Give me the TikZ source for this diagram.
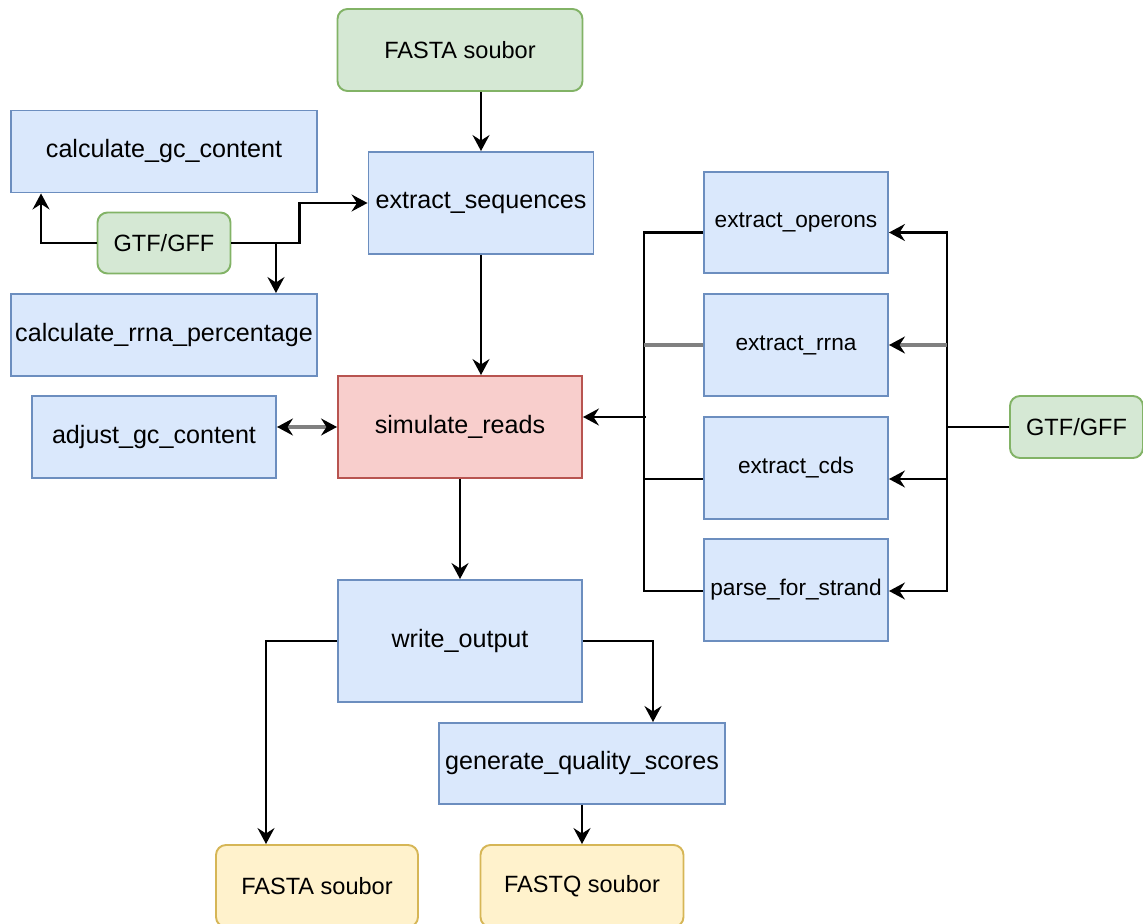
\documentclass[tikz,border=0pt]{standalone}
\usepackage{fontspec}
\setmainfont{Liberation Sans}
\usetikzlibrary{arrows.meta}
\usetikzlibrary{calc}

\definecolor{funcfill}{HTML}{DAE8FC}
\definecolor{funcline}{HTML}{6C8EBF}
\definecolor{iofill}{HTML}{D5E8D4}
\definecolor{ioline}{HTML}{82B366}
\definecolor{simfill}{HTML}{F8CECC}
\definecolor{simline}{HTML}{B85450}
\definecolor{resfill}{HTML}{FFF2CC}
\definecolor{resline}{HTML}{D6B656}

\begin{document}
\begin{tikzpicture}[x=0.2mm, y=-0.2mm,
    >={Stealth[length=0.32cm, width=0.34cm, inset=0.11cm]},
    func/.style={rectangle, draw=funcline, fill=funcfill, line width=1.1pt, inner sep=0pt, font=\fontsize{14.3}{17}\selectfont},
    small/.style={func, font=\fontsize{12.9}{15}\selectfont},
    io/.style={rectangle, rounded corners=0.2cm, draw=ioline, fill=iofill, line width=1.1pt, inner sep=0pt, font=\fontsize{13.4}{16}\selectfont},
    sim/.style={func, draw=simline, fill=simfill},
    result/.style={io, draw=resline, fill=resfill},
    arr/.style={line width=1.2pt, ->},
    link/.style={line width=1.2pt},
    grayline/.style={line width=2.2pt, draw=gray}]
      \useasboundingbox (0,0) rectangle (1143,924);

      \node[io, minimum width=4.9cm, minimum height=1.64cm] (1) at (460,50) {FASTA soubor};
      \node[func, minimum width=4.5cm, minimum height=2.04cm] (2) at (481,203) {extract\_sequences};
      \node[func, minimum width=6.12cm, minimum height=1.64cm] (3) at (164,151.5) {calculate\_gc\_content};
      \node[io, minimum width=2.66cm, minimum height=1.22cm] (4) at (164,243) {GTF/GFF};
      \node[func, minimum width=6.12cm, minimum height=1.64cm] (5) at (164,335) {calculate\_rrna\_percentage};
      \node[sim, minimum width=4.88cm, minimum height=2.04cm] (6) at (460,427) {simulate\_reads};
      \node[func, minimum width=4.88cm, minimum height=1.64cm] (7) at (154,437) {adjust\_gc\_content};
      \node[func, minimum width=4.88cm, minimum height=2.44cm] (8) at (460,641) {write\_output};
      \node[func, minimum width=5.72cm, minimum height=1.62cm] (9) at (582,763.5) {generate\_quality\_scores};
      \node[result, minimum width=4.04cm, minimum height=1.64cm] (10) at (317,886) {FASTA soubor};
      \node[result, minimum width=4.06cm, minimum height=1.64cm] (11) at (582,886) {FASTQ soubor};
      \node[small, minimum width=3.68cm, minimum height=2.02cm] (12) at (796,222.5) {extract\_operons};
      \node[small, minimum width=3.68cm, minimum height=2.04cm] (13) at (796,345) {extract\_rrna};
      \node[small, minimum width=3.68cm, minimum height=2.04cm] (14) at (796,468) {extract\_cds};
      \node[small, minimum width=3.68cm, minimum height=2.04cm] (15) at (796,590) {parse\_for\_strand};
      \node[io, minimum width=2.66cm, minimum height=1.24cm] (16) at (1076.5,427) {GTF/GFF};

      \draw[arr] (2.north |- 1.south) -- (2.north);
      \draw[arr] (4.west) -| ($(3.south west)+(31,0)$);
      \draw[arr] (4.east) -- ++(68,0) |- (2.west);
      \draw[arr] (4.east) -| ($(5.north east)+(-42,0)$);
      \draw[arr] (2.south) -- (2.south |- 6.north);
      \draw[grayline, {Stealth[black, length=0.32cm, width=0.34cm, inset=0.11cm]}-{Stealth[black, length=0.32cm, width=0.34cm, inset=0.11cm]}] (7.east |- 6.west) -- (6.west);
      \draw[arr] (6.south) -- (8.north);
      \draw[arr] (8.west) -| ($(10.north)+(-51,0)$);
      \draw[arr] (8.east) -| ($(9.north)+(71,0)$);
      \draw[arr] (11.north |- 9.south) -- (11.north);

      \draw[link] ($(12.west)+(0,10)$) -- ++(-59,0) |- ($(15.west)+(0,1)$);
      \draw[link] ($(14.west)+(0,11)$) -- ++(-59,0);
      \draw[grayline] (13.west) -- ++(-59,0);
      \draw[arr] ($(6.east)+(63,-10)$) -- ($(6.east)+(0,-10)$);

      \draw[link] (16.west) -- ++(-62,0);
      \draw[arr] ($(16.west)+(-62,0)$) |- ($(12.east)+(0,10)$);
      \draw[arr] ($(16.west)+(-62,0)$) |- ($(15.east)+(0,1)$);
      \draw[arr] ($(16.west)+(-62,0)$) |- ($(14.east)+(0,11)$);
      \draw[grayline, -{Stealth[black, length=0.32cm, width=0.34cm, inset=0.11cm]}] ($(13.east -| 16.west)+(-62,0)$) -- (13.east);
    \end{tikzpicture}
\end{document}
